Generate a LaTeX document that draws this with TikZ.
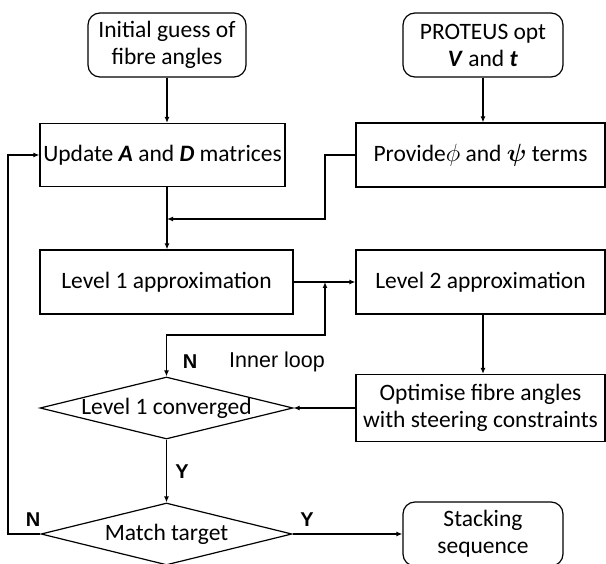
\documentclass[tikz,border=0pt]{standalone}
\usepackage{fontspec}
\usepackage{bm}
\setmainfont{Carlito}
\newfontfamily\arialf{Liberation Sans}
\usetikzlibrary{shapes.geometric,arrows.meta}
\begin{document}
\begin{tikzpicture}[x=1pt,y=-1pt,
  font=\fontsize{23.5}{27}\selectfont,
  line width=1.2pt,
  box/.style={draw,rectangle,inner sep=0pt,align=center},
  rbox/.style={draw,rectangle,rounded corners=12pt,inner sep=0pt,align=center},
  dia/.style={draw,diamond,inner sep=0pt},
  arr/.style={-{Latex[length=6pt,width=5pt]}},
  lbl/.style={font=\arialf\bfseries\fontsize{20}{22}\selectfont},
  ]
\useasboundingbox (0,0) rectangle (606,564);
\node[rbox,minimum width=158pt,minimum height=64pt] (init) at (167,45) {Initial guess of\\fibre angles};
\node[rbox,minimum width=160pt,minimum height=64pt] (proteus) at (483,45) {PROTEUS opt\\\textbf{\textit{V}} and \textbf{\textit{t}}};
\node[box,minimum width=245pt,minimum height=63pt] (update) at (162.5,155) {Update \textbf{\textit{A}} and \textbf{\textit{D}} matrices};
\node[box,minimum width=249pt,minimum height=64pt] (provide) at (480.5,155) {Provide$\phi$ and $\bm{\psi}$ terms};
\node[box,minimum width=253pt,minimum height=64pt] (level1) at (166.5,282) {Level 1 approximation};
\node[box,minimum width=249pt,minimum height=64pt] (level2) at (480.5,282) {Level 2 approximation};
\node[box,minimum width=249pt,minimum height=67pt] (optim) at (480.5,408) {Optimise fibre angles\\with steering constraints};
\node[dia,minimum width=253pt,minimum height=62pt,label=center:Level 1 converged] (conv) at (166.5,408) {};
\node[dia,minimum width=251pt,minimum height=62pt,label=center:Match target] (match) at (166.5,534) {};
\node[rbox,minimum width=160pt,minimum height=64pt] (stack) at (483,534) {Stacking\\sequence};

\coordinate (j1) at (325,219);
\coordinate (j2) at (325,282);
\coordinate (j3) at (325,335);
\coordinate (j4) at (8,534);

\draw[arr] (init.south) -- (init.south |- update.north);
\draw[arr] (proteus.south) -- (proteus.south |- provide.north);
\draw[arr] (provide.west) -| (j1) -- (j1 -| init.south);
\draw[arr] (init.south |- update.south) -- (init.south |- level1.north);
\draw[arr] (level1.east) -- (level2.west);
\draw[{Latex[length=6pt,width=5pt]}-{Latex[length=6pt,width=5pt]}] (j2) -- (j3) -| (conv.north);
\draw[arr] (proteus.south |- level2.south) -- (proteus.south |- optim.north);
\draw[arr] (optim.west |- conv.east) -- (conv.east);
\draw[arr] (conv.south) -- (match.north);
\draw[arr] (match.west) -- (j4) |- (update.west);
\draw[arr] (match.east) -- (stack.west);

\node[lbl] (nin) at (190,362) {N};
\node[font=\arialf\fontsize{21.5}{24}\selectfont] (inner) at (277,362) {Inner loop};
\node[lbl] (yconv) at (182,472) {Y};
\node[lbl] (nmatch) at (33,520) {N};
\node[lbl] (ymatch) at (307,520) {Y};
\end{tikzpicture}
\end{document}
